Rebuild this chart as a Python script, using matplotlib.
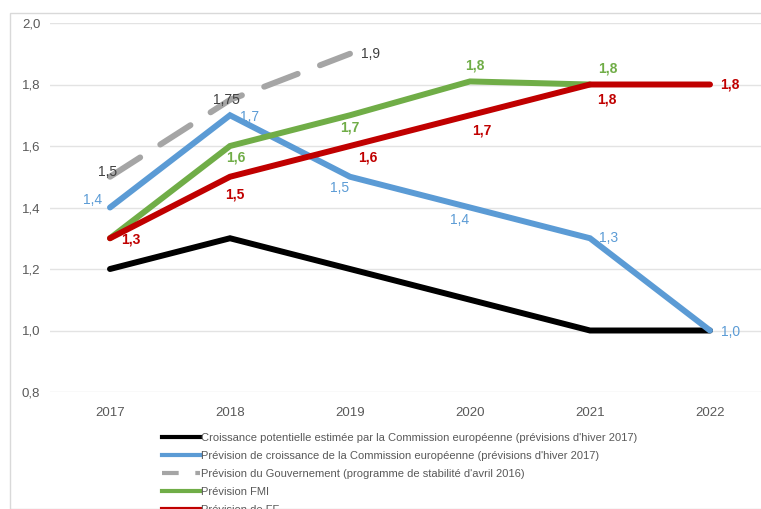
import matplotlib
matplotlib.use("Agg")
import matplotlib.pyplot as plt
from matplotlib.patches import Rectangle
from matplotlib.lines import Line2D

plt.rcParams['font.family'] = ['Liberation Sans', 'DejaVu Sans']

years = ["2017", "2018", "2019", "2020", "2021", "2022"]
potentielle = [1.2, 1.3, 1.2, 1.1, 1.0, 1.0]
commission = [1.4, 1.7, 1.5, 1.4, 1.3, 1.0]
gouvernement = [1.5, 1.75, 1.9]
fmi = [1.3, 1.6, 1.7, 1.81, 1.8]
ff = [1.3, 1.5, 1.6, 1.7, 1.8, 1.8]

labels_commission = ["1,4", "1,7", "1,5", "1,4", "1,3", "1,0"]
labels_gouv = ["1,5", "1,75", "1,9"]
labels_fmi = ["", "1,6", "1,7", "1,8", "1,8"]
labels_ff = ["1,3", "1,5", "1,6", "1,7", "1,8", "1,8"]

legend_labels = [
    "Croissance potentielle estimée par la Commission européenne (prévisions d'hiver 2017)",
    "Prévision de croissance de la Commission européenne (prévisions d'hiver 2017)",
    "Prévision du Gouvernement (programme de stabilité d'avril 2016)",
    "Prévision FMI",
    "Prévision de FF",
]

c_black = "#000000"
c_blue = "#5B9BD5"
c_gray = "#A5A5A5"
c_green = "#70AD47"
c_red = "#C00000"

W, H = 761, 509
fig = plt.figure(figsize=(W / 100, H / 100), dpi=100)
fig.patches.append(Rectangle((10 / W, 0), 1, 1 - 13 / H, transform=fig.transFigure,
                             fill=False, edgecolor="#D9D9D9", lw=1))
ax = fig.add_axes([50 / W, 117 / H, 720 / W, 369 / H])
ax.set_xlim(-0.5, 5.5)
ax.set_ylim(0.8, 2.0)
for s in ax.spines.values():
    s.set_visible(False)
ax.set_yticks([0.8, 1.0, 1.2, 1.4, 1.6, 1.8, 2.0])
ax.set_yticklabels(["0,8", "1,0", "1,2", "1,4", "1,6", "1,8", "2,0"])
ax.set_xticks(range(len(years)))
ax.set_xticklabels(years)
ax.tick_params(length=0, labelsize=9.5, colors="#595959")
ax.tick_params(axis='x', pad=11)
ax.tick_params(axis='y', pad=7)
ax.grid(axis='y', color="#E3E3E3", lw=1)
ax.set_axisbelow(True)

x = list(range(len(years)))
lw = 4.3
ax.plot(x, potentielle, color=c_black, lw=lw, solid_capstyle='round', solid_joinstyle='miter')
ax.plot(x, commission, color=c_blue, lw=lw, solid_capstyle='round', solid_joinstyle='miter')
ax.plot(x[:3], gouvernement, color=c_gray, lw=lw, dashes=(6.0, 4.0), dash_capstyle='round')
ax.plot(x[:5], fmi, color=c_green, lw=lw, solid_capstyle='round', solid_joinstyle='miter')
ax.plot(x, ff, color=c_red, lw=lw, solid_capstyle='round', solid_joinstyle='miter')

def label(xs, ys, texts, offsets, color, weight):
    for xi, yi, t, (dx, dy) in zip(xs, ys, texts, offsets):
        if t:
            ax.annotate(t, (xi, yi), xytext=(dx, dy), textcoords='offset pixels',
                        ha='center', va='center', color=color, fontsize=10,
                        fontweight=weight)

label(x, commission, labels_commission,
      [(-17, 8), (20, -2), (-10, -11), (-10, -13), (19, 0), (21, -1)], c_blue, 'normal')
label(x[:3], gouvernement, labels_gouv, [(-2, 5), (-4, 0), (20, 0)], "#404040", 'normal')
label(x[:5], fmi, labels_fmi, [(0, 0), (6, -11), (0, -12), (5, 16), (18, 16)], c_green, 'bold')
label(x, ff, labels_ff,
      [(21, -1), (5, -18), (18, -11), (12, -15), (17, -15), (20, 0)], c_red, 'bold')

llw = 3.0
handles = [
    Line2D([], [], color=c_black, lw=llw),
    Line2D([], [], color=c_blue, lw=llw),
    Line2D([], [], color=c_gray, lw=llw, dashes=(4, 4), dash_capstyle='butt'),
    Line2D([], [], color=c_green, lw=llw),
    Line2D([], [], color=c_red, lw=llw),
]
fig.legend(handles, legend_labels, loc='upper left', bbox_to_anchor=(162 / W, 1 - 433 / H),
           frameon=False, fontsize=8, handlelength=3.4, handletextpad=0.15,
           labelspacing=0.72, labelcolor="#595959", borderaxespad=0, borderpad=0)

fig.savefig("out.png", dpi=100)
